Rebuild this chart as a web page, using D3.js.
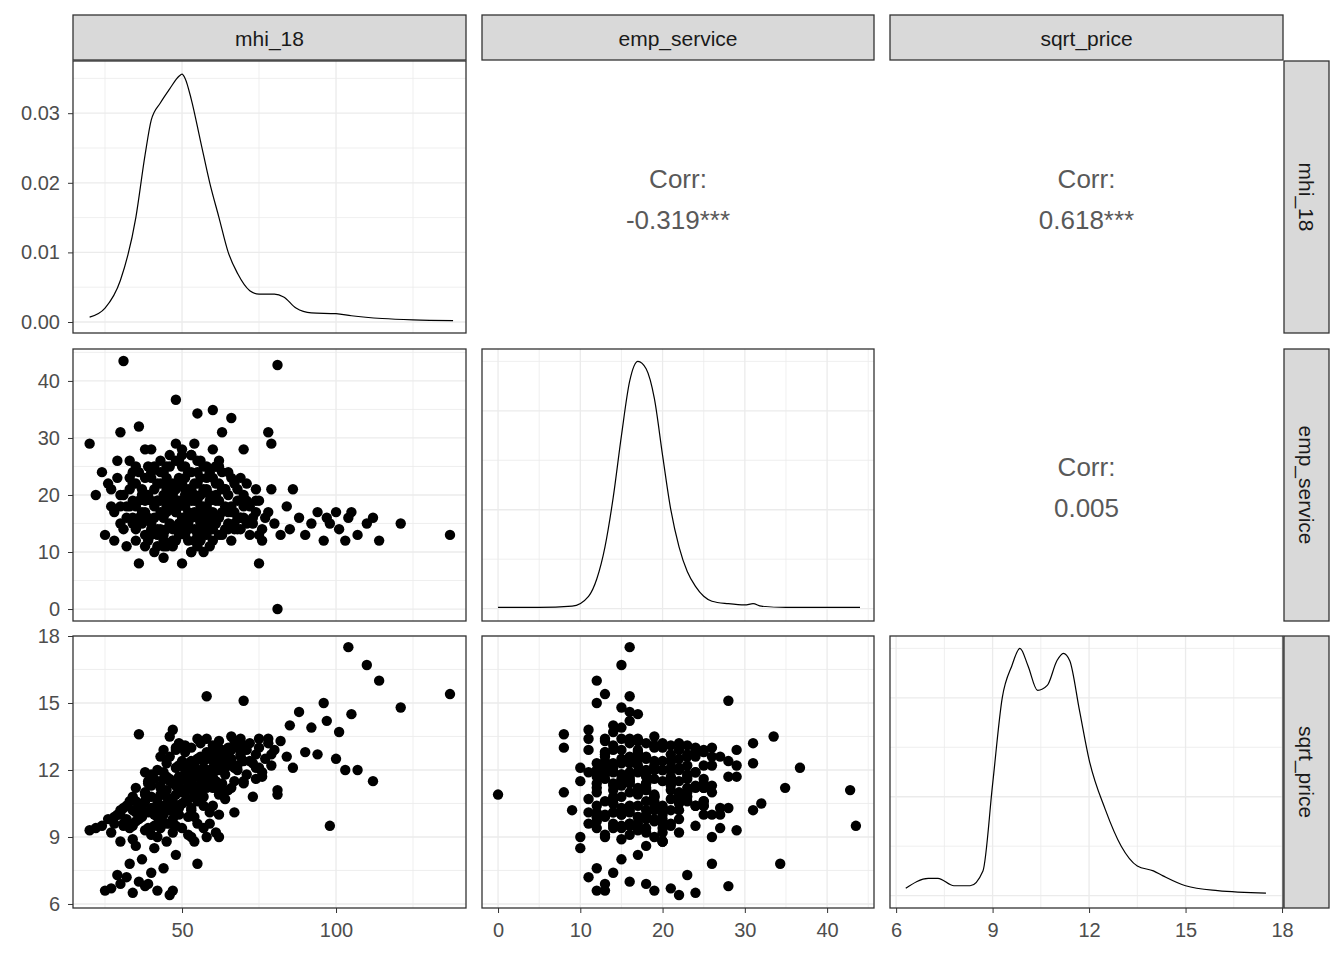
<!DOCTYPE html>
<html><head><meta charset="utf-8">
<script src="https://cdn.jsdelivr.net/npm/d3@7"></script>
<style>body{margin:0;background:#fff}</style></head>
<body><svg id="c" width="1344" height="960"></svg>
<script>
const vars = ["mhi_18","emp_service","sqrt_price"];
const corrText = [["","-0.319***","0.618***"],["","","0.005"]];
const mhiA = [20,22,24,26,27,28,29,30,31,32, 33,34,35,35,36,37,38,38,39,40, 40,41,42,42,43,43,44,44,45,45,
 46,46,47,47,48,48,49,49,50,50, 51,51,52,52,53,53,54,54,55,55, 56,56,57,57,58,58,59,59,60,60,
 61,62,62,63,64,65,65,66,67,68, 69,70,71,72,73,74,75,76,77,78, 79,80,81,81,82,84,85,86,88,90,
 92,94,96,97,98,100,101,103,104,105, 107,110,112,114,121,137,25,27,30,32, 34,36,38,40,42,44,46,33,37,48,
 41,45,29,39,60,66,55,70,58,62, 50,63,54,47,53,44,57,36,47,42, 43,44,45,46,47,48,49,50,50,51,
 51,52,52,53,53,54,54,55,55,56, 56,57,57,58,59,60,61,61,62,63, 64,66,67,68,39,40,41,43,45,46,
 48,49,38,36,34,37,33,35,31,28, 30,52,65,70,72,75,78,74,69];
const empA = [29,20,24,22,18,12,26,31,43.5,16, 21,19,14,25,32,17,23,13,20,28, 15,18,22,11,26,19,16,24,14,21,
 18,27,12,20,36.7,17,23,15,19,8, 25,13,21,17,10,24,19,14,22,16, 20,12,18,25,15,21,17,11,23,14,
 19,16,22,13,18,20,15,12,17,21, 14,16,19,13,15,17,8,14,16,31, 29,15,42.8,0,13,18,14,21,16,13,
 15,17,12,16,15,17,14,12,16,17, 13,15,16,12,15,13,13,21,18,11, 24,16,28,14,19,12,22,26,15,17,
 10,20,23,13,34.9,33.5,34.3,28,16,26, 27,31,29,12,10,9,10,8,11,14, 17,20,23,15,18,21,13,16,22,18,
 20,14,24,16,19,22,17,13,19,15, 23,21,14,18,20,17,15,22,19,17, 14,18,15,19,16,19,21,14,17,20,
 14,19,17,19,16,21,18,22,20,17, 15,12,24,20,18,19,17,21,23];
const priceA = [9.3,9.4,9.5,9.8,9.2,9.9,10.0,10.2,9.5,10.4, 9.6,10.8,10.1,11.2,10.5,9.9,11.0,10.6,11.5,10.3, 11.8,10.0,12.0,10.7,11.3,9.7,11.9,10.4,12.3,11.1,
 10.2,12.6,11.4,9.8,12.1,10.9,11.7,10.3,12.4,11.0, 10.6,12.8,11.6,9.9,12.1,13.0,10.8,11.3,12.5,9.6, 13.2,11.0,12.0,10.4,13.4,11.7,12.8,10.1,13.1,11.4,
 12.2,13.3,10.9,12.6,11.8,13.0,12.3,11.2,13.3,12.0, 12.9,11.5,13.1,12.4,10.8,12.7,13.0,11.9,12.5,13.2, 12.2,12.9,11.1,10.9,13.3,12.6,14.0,12.1,14.6,12.8,
 13.9,12.7,15.0,14.2,9.5,12.5,13.7,12.0,17.5,14.5, 12.0,16.7,11.5,16.0,14.8,15.4,6.6,6.7,6.9,7.2, 6.5,7.0,6.8,7.4,6.6,7.6,6.4,7.8,8.0,8.2,
 8.5,8.8,7.3,6.9,11.2,13.5,7.8,15.1,15.3,9.0, 9.4,12.3,11.7,6.6,9.0,10.2,11.5,13.6,13.8,10.5, 11.2,10.0,10.8,11.5,10.6,11.3,10.0,11.6,10.5,11.1,
 12.0,10.7,11.9,11.4,10.2,11.0,12.2,11.8,10.6,11.6, 11.2,12.4,10.8,11.2,12.0,11.9,12.5,11.5,12.0,11.0, 12.1,12.5,11.5,13.1,10.1,10.8,9.5,9.4,10.4,9.6,
 9.5,10.4,9.3,9.8,9.5,10.2,9.4,10.6,10.3,9.6, 10.0,12.3,12.8,12.4,13.2,12.1,13.4,11.6,12.7];
const mhiB = [32,34,36,38,40,42,44,46,48,50, 52,54,56,58,60,62,64,66,68,70, 33,35,37,39,41,43,45,47,49,51,
 53,55,57,59,61,63,65,67,69,71, 31,36,41,46,51,56,61,66,71,76, 34,39,44,49,54,59,64,69,74,79,
 30,35,40,45,50,55,60,65,70,75, 38,43,48,53,58,63,68,73,42,47, 52,57,62,67,44,49,54,59,46,51,
 56,61,40,45,50,55,60,48,53,58];
const empB = [18,22,15,19,24,13,17,21,12,25, 15,20,18,23,16,13,21,17,14,19, 23,12,20,25,16,22,18,14,26,16,
 21,24,13,19,25,21,17,22,16,15, 14,24,25,25,23,26,25,23,22,12, 15,12,13,18,12,24,21,16,19,21,
 20,18,13,11,14,11,12,14,18,13, 11,24,26,27,13,24,16,16,19,22, 16,15,25,14,11,22,20,16,19,21,
 17,20,23,25,28,26,28,29,27,25];
const priceB = [9.8,10.2,10.0,10.9,11.3,9.9,11.0,11.6,10.1,12.2, 11.3,12.0,11.1,12.6,11.7,12.7,12.4,12.9,12.2,13.0,
 10.6,9.7,10.4,11.4,10.2,10.9,11.7,10.5,12.2,11.0, 12.4,11.2,12.1,11.6,12.9,11.4,12.5,12.1,13.4,11.8,
 9.6,10.4,11.6,10.6,11.8,12.6,11.2,12.2,12.9,11.7, 8.9,9.4,11.6,11.4,9.9,11.9,10.7,12.6,12.1,12.7,
 8.8,8.6,9.1,9.6,13.1,13.4,10.4,11.1,11.4,13.4, 11.9,12.6,13.0,10.3,9.0,12.9,13.2,12.3,9.0,9.2,
 9.1,9.4,10.0,10.1,12.9,13.2,8.8,9.6,13.5,13.1, 13.3,9.2,11.6,10.4,11.7,11.0,12.4,12.9,10.0,12.8];
const mhi = mhiA.concat(mhiB), emp = empA.concat(empB), price = priceA.concat(priceB);
const dMhiX = [20,25,30,35,38,40,43,46,49,50,51,53,56,59,62,65,68,72,75,80,83,87,92,100,105,115,125,138];
const dMhiY = [0.0007,0.002,0.006,0.015,0.024,0.029,0.0315,0.0335,0.0353,0.0356,0.035,0.032,0.026,0.02,0.015,0.01,0.007,0.0045,0.004,0.004,0.0036,0.002,0.0013,0.0012,0.0009,0.0005,0.0003,0.0002];
const dEmpX = [0,5,9,11,12,13,14,15,16,17,18,19,20,21,22,23,24,25,26,28,30,31,32,35,44];
const dEmpY = [0.005,0.005,0.01,0.05,0.12,0.25,0.45,0.7,0.92,1.0,0.97,0.85,0.62,0.4,0.25,0.15,0.09,0.05,0.03,0.02,0.015,0.02,0.01,0.005,0.005];
const dPrX = [6.3,7,7.3,7.8,8.3,8.7,9,9.3,9.6,9.85,10.1,10.4,10.7,11,11.2,11.4,11.7,12,12.5,13,13.5,14,14.3,15,16,17.5];
const dPrY = [0.03,0.07,0.07,0.04,0.04,0.1,0.45,0.8,0.93,1.0,0.93,0.83,0.85,0.95,0.98,0.95,0.75,0.55,0.35,0.2,0.12,0.1,0.08,0.04,0.02,0.01];
const ticks = [[50,100],[0,10,20,30,40],[6,9,12,15,18]];
const rowTicks = [[0,0.01,0.02,0.03],[0,10,20,30,40],[6,9,12,15,18]];

const svg = d3.select("#c");
const colX = [[73,466],[482,874],[890,1283]];
const rowY = [[61,333],[349,621],[636,908]];
const xDom = [[14.6,142.2],[-1.95,45.7],[5.81,18.03]];
const yDom = [[-0.00158,0.0375],[-2.1,45.6],[5.82,18]];
const xs = xDom.map((d,i)=>d3.scaleLinear().domain(d).range(colX[i]));
const ys = yDom.map((d,i)=>d3.scaleLinear().domain(d).range([rowY[i][1],rowY[i][0]]));
const dens = d3.scaleLinear().domain([-0.05,1.05]);
const data = [mhi,emp,price];
const font = "Liberation Sans, Arial, sans-serif";

function inDom(s){const [a,b]=d3.extent(s.domain());return v=>v>=a&&v<=b;}
function grid(g, xsc, ysc, xt, yt, xmin, ymin){
  [[xmin,0.8],[xt,1.3]].forEach(([t,w])=>t.filter(inDom(xsc)).forEach(v=>g.append("line").attr("x1",xsc(v)).attr("x2",xsc(v)).attr("y1",ysc.range()[0]).attr("y2",ysc.range()[1]).attr("stroke","#ebebeb").attr("stroke-width",w)));
  [[ymin,0.8],[yt,1.3]].forEach(([t,w])=>t.filter(inDom(ysc)).forEach(v=>g.append("line").attr("y1",ysc(v)).attr("y2",ysc(v)).attr("x1",xsc.range()[0]).attr("x2",xsc.range()[1]).attr("stroke","#ebebeb").attr("stroke-width",w)));
}
function mids(t){const r=[];const s=t[1]-t[0];r.push(t[0]-s/2);t.forEach(v=>r.push(v+s/2));return r;}

for(let r=0;r<3;r++)for(let c=0;c<3;c++){
  const g = svg.append("g");
  const [x0,x1]=colX[c],[y0,y1]=rowY[r];
  if(c>r){
    g.append("text").attr("x",(x0+x1)/2).attr("y",y0+127).attr("text-anchor","middle").attr("font-family",font).attr("font-size",26).attr("fill","#595959").text("Corr:");
    g.append("text").attr("x",(x0+x1)/2).attr("y",y0+168).attr("text-anchor","middle").attr("font-family",font).attr("font-size",26).attr("fill","#595959").text(corrText[r][c]);
    continue;
  }
  const xsc = xs[c];
  let ysc = ys[r], yt = rowTicks[r];
  if(r===c && r>0){ ysc = dens.copy().range([y1,y0]); yt=[0,0.4,0.8]; }
  grid(g,xsc,ysc,ticks[c],yt,mids(ticks[c]),mids(yt));
  g.append("clipPath").attr("id",`cp${r}${c}`).append("rect").attr("x",x0).attr("y",y0).attr("width",x1-x0).attr("height",y1-y0);
  const inner = g.append("g").attr("clip-path",`url(#cp${r}${c})`);
  if(r===c){
    const X=[dMhiX,dEmpX,dPrX][r], Y=[dMhiY,dEmpY,dPrY][r];
    inner.append("path").datum(d3.range(X.length)).attr("fill","none").attr("stroke","#000").attr("stroke-width",1.2)
      .attr("d",d3.line().curve(d3.curveMonotoneX).x(i=>xsc(X[i])).y(i=>ysc(Y[i])));
  } else {
    inner.selectAll("circle").data(d3.range(mhi.length)).join("circle")
      .attr("cx",i=>xsc(data[c][i])).attr("cy",i=>ysc(data[r][i])).attr("r",5.2).attr("fill","#000");
  }
  g.append("rect").attr("x",x0).attr("y",y0).attr("width",x1-x0).attr("height",y1-y0).attr("fill","none").attr("stroke","#333").attr("stroke-width",1.3);
}
for(let c=0;c<3;c++){
  const g=svg.append("g").attr("transform",`translate(0,${rowY[2][1]})`).call(d3.axisBottom(xs[c]).tickValues(ticks[c]).tickSize(5).tickPadding(10));
  g.selectAll(".domain").remove();
  g.selectAll("line").attr("stroke","#333");
  g.selectAll("text").attr("font-family",font).attr("font-size",20).attr("fill","#4d4d4d");
}
for(let r=0;r<3;r++){
  const g=svg.append("g").attr("transform",`translate(${colX[0][0]},0)`).call(d3.axisLeft(ys[r]).tickValues(rowTicks[r]).tickFormat(r===0?d3.format(".2f"):d3.format("d")).tickSize(5).tickPadding(8));
  g.selectAll(".domain").remove();
  g.selectAll("line").attr("stroke","#333");
  g.selectAll("text").attr("font-family",font).attr("font-size",20).attr("fill","#4d4d4d");
}
for(let c=0;c<3;c++){
  svg.append("rect").attr("x",colX[c][0]).attr("y",15).attr("width",colX[c][1]-colX[c][0]).attr("height",45).attr("fill","#d9d9d9").attr("stroke","#333").attr("stroke-width",1.3);
  svg.append("text").attr("x",(colX[c][0]+colX[c][1])/2).attr("y",46).attr("text-anchor","middle").attr("font-family",font).attr("font-size",21).attr("fill","#1a1a1a").text(vars[c]);
}
for(let r=0;r<3;r++){
  svg.append("rect").attr("x",1284).attr("y",rowY[r][0]).attr("width",45).attr("height",rowY[r][1]-rowY[r][0]).attr("fill","#d9d9d9").attr("stroke","#333").attr("stroke-width",1.3);
  const cy=(rowY[r][0]+rowY[r][1])/2;
  svg.append("text").attr("transform",`translate(1299,${cy}) rotate(90)`).attr("text-anchor","middle").attr("font-family",font).attr("font-size",21).attr("fill","#1a1a1a").text(vars[r]);
}
</script></body></html>
